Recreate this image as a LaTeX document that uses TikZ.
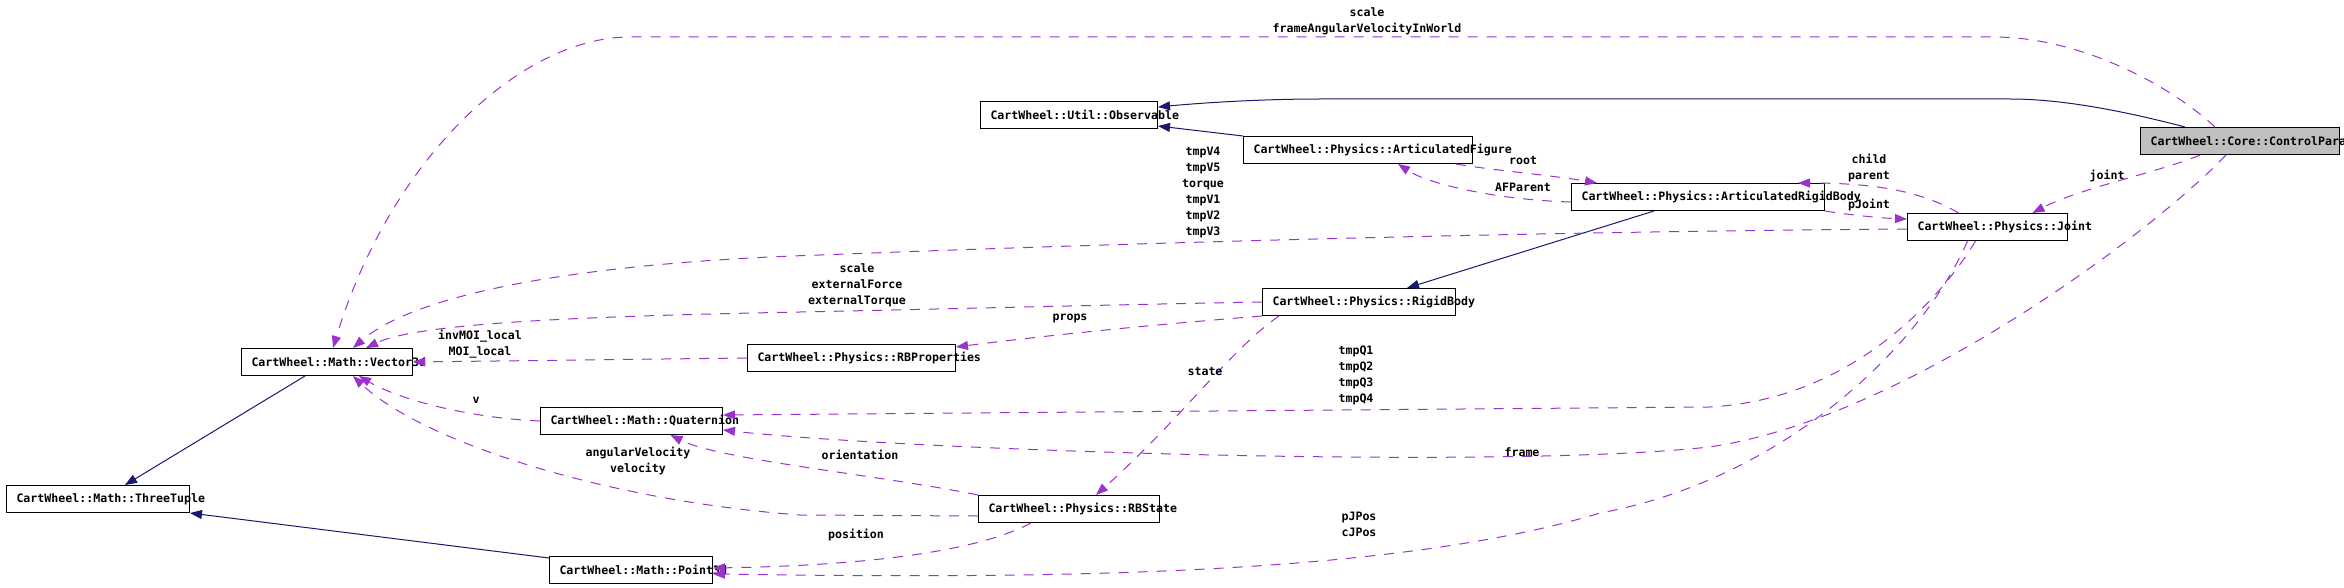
\documentclass[tikz,border=0pt]{standalone}
\usepackage{fontspec}
\usepackage{tikz}
\usetikzlibrary{arrows.meta}
\newfontfamily\doxfont{DejaVu Sans Mono}
\definecolor{inhblue}{HTML}{191970}
\definecolor{usepurple}{HTML}{9A32CD}
\definecolor{boxgray}{HTML}{BFBFBF}

\begin{document}
\begin{tikzpicture}[x=1pt, y=-1pt, >={Triangle[length=12pt, width=9pt]},
  every node/.style={font=\doxfont\bfseries\fontsize{11.6}{16}\selectfont},
  classbox/.style={draw, line width=1pt, anchor=north west, minimum height=27pt,
    inner xsep=10pt, inner ysep=0pt, text width=#1, align=left},
  inhedge/.style={->, draw=inhblue, line width=1pt},
  useedge/.style={->, draw=usepurple, line width=1pt, dash pattern=on 10pt off 9pt},
  lbl/.style={align=center, inner sep=0pt}]
\useasboundingbox (0,0) rectangle (2344,588);

\node[classbox=179pt, fill=boxgray] (cp) at (2140,127) {\mbox{CartWheel::Core::ControlParams}};
\node[classbox=157pt] (obs) at (980,101) {\mbox{CartWheel::Util::Observable}};
\node[classbox=209pt] (af) at (1243,136) {\mbox{CartWheel::Physics::ArticulatedFigure}};
\node[classbox=233pt] (arb) at (1571,183) {\mbox{CartWheel::Physics::ArticulatedRigidBody}};
\node[classbox=140pt] (joint) at (1907,213) {\mbox{CartWheel::Physics::Joint}};
\node[classbox=173pt] (rb) at (1262,288) {\mbox{CartWheel::Physics::RigidBody}};
\node[classbox=188pt] (rbp) at (747,344) {\mbox{CartWheel::Physics::RBProperties}};
\node[classbox=151pt] (vec) at (241,348) {\mbox{CartWheel::Math::Vector3d}};
\node[classbox=162pt] (quat) at (540,407) {\mbox{CartWheel::Math::Quaternion}};
\node[classbox=163pt] (tt) at (6,485) {\mbox{CartWheel::Math::ThreeTuple}};
\node[classbox=161pt] (rbs) at (978,495) {\mbox{CartWheel::Physics::RBState}};
\node[classbox=143pt] (pt) at (549,556) {\mbox{CartWheel::Math::Point3d}};

\draw[inhedge] ([xshift=-55pt]cp.north) .. controls (2120,110) and (2060,99) .. (2010,99)
  -- (1320,99) .. controls (1260,99) and (1200,103) .. ([yshift=8pt]obs.east);
\draw[inhedge] (af.north west) -- ([yshift=-11pt]obs.east);
\draw[inhedge] ([xshift=-44pt]arb.south) -- ([xshift=48pt]rb.north);
\draw[inhedge] ([xshift=-22pt]vec.south) -- ([xshift=27pt]tt.north);
\draw[inhedge] ([yshift=-2pt]pt.north west) -- (tt.south east);

\draw[useedge] ([xshift=-25pt]cp.north) .. controls (2170,85) and (2080,37) .. (1994,37)
  -- (630,37) .. controls (520,37) and (390,160) .. ([xshift=6pt]vec.north);
\draw[useedge] ([xshift=-40pt]cp.south) .. controls (2160,172) and (2080,188) .. ([xshift=45pt]joint.north);
\draw[useedge] ([xshift=-14pt]cp.south) .. controls (2150,235) and (1900,420) .. (1709,447)
  .. controls (1500,470) and (900,450) .. ([yshift=-9pt]quat.east);
\draw[useedge] ([yshift=-5pt]arb.west) .. controls (1500,200) and (1430,185) .. ([xshift=40pt]af.south);
\draw[useedge] ([xshift=98pt]af.south) .. controls (1490,170) and (1550,175) .. ([xshift=-101pt]arb.north);
\draw[useedge] ([xshift=-29pt]joint.north) .. controls (1920,190) and (1870,183) .. ([xshift=100pt]arb.north);
\draw[useedge] (arb.south east) .. controls (1850,215) and (1880,218) .. ([yshift=8pt]joint.west);
\draw[useedge] ([yshift=-2pt]joint.west) .. controls (1500,232) and (1100,244) .. (820,255)
  .. controls (600,262) and (420,290) .. ([xshift=26pt]vec.north);
\draw[useedge] (rb.west) .. controls (1100,305) and (900,310) .. (800,312)
  .. controls (600,316) and (420,322) .. ([xshift=39pt]vec.north);
\draw[useedge] (rbp.west) -- (vec.east);
\draw[useedge] (rb.south west) .. controls (1150,325) and (1050,335) .. ([yshift=-3pt]rbp.north east);
\draw[useedge] ([xshift=-80pt]rb.south) .. controls (1230,350) and (1180,420) .. ([xshift=27pt]rbs.north);
\draw[useedge] (quat.west) .. controls (470,418) and (400,400) .. ([xshift=32pt]vec.south);
\draw[useedge] (rbs.north west) .. controls (880,475) and (720,460) .. ([xshift=39pt]quat.south);
\draw[useedge] ([yshift=-7pt]rbs.west) -- (800,515) .. controls (600,500) and (420,440) .. ([xshift=26pt]vec.south);
\draw[useedge] ([xshift=-38pt]rbs.south) .. controls (990,545) and (900,565) .. ([yshift=2pt]pt.east);
\draw[useedge] ([xshift=-12pt]joint.south) .. controls (1940,300) and (1850,400) .. (1709,407)
  -- ([yshift=6pt]quat.east);
\draw[useedge] ([xshift=-20pt]joint.south) .. controls (1920,350) and (1780,480) .. (1600,513)
  .. controls (1380,580) and (1000,578) .. ([yshift=-4pt]pt.east);

\node[lbl] (l-frameav) at (1367,21) {scale\\frameAngularVelocityInWorld};
\node[lbl] (l-joint) at (2107,176) {joint};
\node[lbl] (l-frame) at (1522,452) {frame};
\node[lbl] (l-child) at (1869,168) {child\\parent};
\node[lbl] (l-pjoint) at (1869,205) {pJoint};
\node[lbl] (l-root) at (1523,161) {root};
\node[lbl] (l-afparent) at (1523,187) {AFParent};
\node[lbl] (l-tmpv) at (1203,192) {tmpV4\\tmpV5\\torque\\tmpV1\\tmpV2\\tmpV3};
\node[lbl] (l-force) at (857,285) {scale\\externalForce\\externalTorque};
\node[lbl] (l-moi) at (480,344) {invMOI\_local\\MOI\_local};
\node[lbl] (l-props) at (1070,318) {props};
\node[lbl] (l-state) at (1205,372) {state};
\node[lbl] (l-v) at (476,400) {v};
\node[lbl] (l-orient) at (860,455) {orientation};
\node[lbl] (l-vel) at (638,461) {angularVelocity\\velocity};
\node[lbl] (l-pos) at (856,535) {position};
\node[lbl] (l-tmpq) at (1356,375) {tmpQ1\\tmpQ2\\tmpQ3\\tmpQ4};
\node[lbl] (l-jpos) at (1359,524) {pJPos\\cJPos};
\end{tikzpicture}
\end{document}
